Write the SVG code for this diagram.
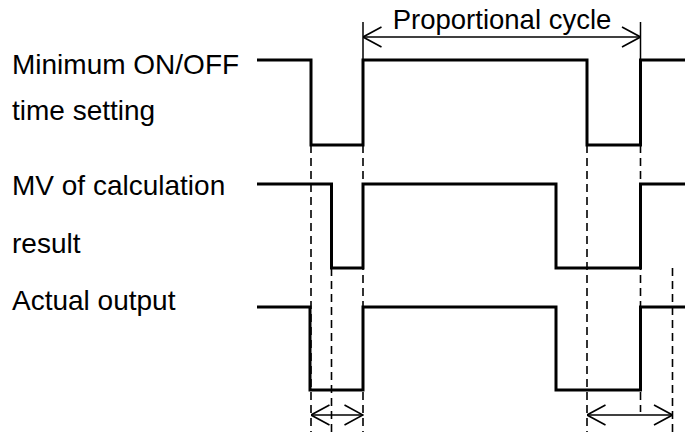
<svg xmlns="http://www.w3.org/2000/svg" width="685" height="432" viewBox="0 0 685 432">
<style>
.lbl{font-family:"Liberation Sans",Arial,sans-serif;font-size:28px;fill:#000}
.wave{fill:none;stroke:#000;stroke-width:3;stroke-linejoin:miter}
.dash{fill:none;stroke:#000;stroke-width:1.6;stroke-dasharray:8 5}
.dim{fill:none;stroke:#000;stroke-width:1.5}
</style>
<defs>
<marker id="ah" viewBox="0 0 20 22" refX="19.5" refY="11" markerWidth="20" markerHeight="22" markerUnits="userSpaceOnUse" orient="auto-start-reverse">
<path d="M1,1 L19.5,11 L1,21" fill="none" stroke="#000" stroke-width="1.6"/>
</marker>
</defs>
<rect width="685" height="432" fill="#fff"/>
<g id="labels">
<text class="lbl" x="12" y="74">Minimum ON/OFF</text>
<text class="lbl" x="12" y="120">time setting</text>
<text class="lbl" x="12" y="195">MV of calculation</text>
<text class="lbl" x="12" y="253">result</text>
<text class="lbl" x="12" y="310">Actual output</text>
</g>
<g id="connectors">
<path class="dash" d="M311,145V432 M363,145V432 M331.5,268V432 M587,145V432 M640.5,145V412 M672.5,268V432"/>
<path class="dim" d="M363,22V60 M640.5,22V60"/>
<path class="dim" d="M363,37H640.5" marker-start="url(#ah)" marker-end="url(#ah)"/>
<path class="dim" d="M311,415H363" marker-start="url(#ah)" marker-end="url(#ah)"/>
<path class="dim" d="M587,415H672.5" marker-start="url(#ah)" marker-end="url(#ah)"/>
</g>
<g id="wave-min">
<path class="wave" d="M257,60H311V145H363V60H587V145H640.5V60H685"/>
</g>
<g id="wave-mv">
<path class="wave" d="M257,184H331.5V268H363V184H556V268H640.5V184H685"/>
</g>
<g id="wave-out">
<path class="wave" d="M257,307H310V390H363V307H556V390H640.5V307H685"/>
</g>
<g id="cycle-label">
<text class="lbl" x="502" y="29" text-anchor="middle" style="font-size:27.5px">Proportional cycle</text>
</g>
</svg>
